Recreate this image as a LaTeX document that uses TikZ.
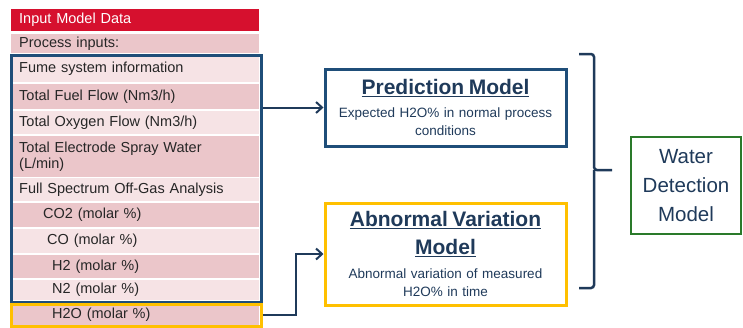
\documentclass[tikz,border=0pt]{standalone}
\usepackage{fontspec}
\setmainfont{Liberation Sans}
\usetikzlibrary{arrows.meta, positioning}
\definecolor{navy}{HTML}{1F4E79}
\definecolor{inkblue}{HTML}{1F3A5A}
\definecolor{hdrred}{HTML}{D6102E}
\definecolor{pinkdark}{HTML}{EBC6CA}
\definecolor{pinklight}{HTML}{F6E3E5}
\definecolor{ambr}{HTML}{FFC000}
\definecolor{leaf}{HTML}{2A7A2A}
\newcommand\mtitle[1]{{\fontsize{21}{26}\selectfont\bfseries\underline{#1}}}

\begin{document}
\begin{tikzpicture}[x=1pt,y=-1pt,
        row/.style={anchor=north west, minimum width=248, inner xsep=8, inner ysep=0,
          text width=232, align=left, font=\fontsize{14.5}{16}\selectfont, text=black!85},
        dk/.style={row, fill=pinkdark},
        lt/.style={row, fill=pinklight},
        frame/.style={anchor=north west, line width=2.5, inner sep=0},
        model/.style={line width=3, align=center, text width=230, text=inkblue,
          font=\fontsize{13.5}{18}\selectfont},
        conn/.style={draw=inkblue, line width=2, -{Straight Barb[length=6,width=11,line width=2]}},
        bracket/.style={draw=inkblue, line width=2.5, rounded corners=3}]
        \useasboundingbox (0,0) rectangle (743,327);
        % input table
        \node[row, fill=hdrred, text=white, minimum height=22] (hdr) at (11,9) {Input Model Data};
        \node[dk, minimum height=19] (proc) at (11,34) {Process inputs:};
        \node[lt, minimum height=26] (fume) at (11,56) {Fume system information};
        \node[dk, minimum height=25] (fuel) at (11,84) {Total Fuel Flow (Nm3/h)};
        \node[lt, minimum height=23] (oxy) at (11,111) {Total Oxygen Flow (Nm3/h)};
        \node[dk, minimum height=41] (elec) at (11,136) {Total Electrode Spray Water\\(L/min)};
        \node[lt, minimum height=23] (fsa) at (11,178) {Full Spectrum Off-Gas Analysis};
        \node[dk, minimum height=24] (co2) at (11,203) {\hspace*{24pt}CO2 (molar \%)};
        \node[lt, minimum height=24] (co) at (11,229) {\hspace*{28pt}CO (molar \%)};
        \node[dk, minimum height=23] (h2) at (11,255) {\hspace*{33pt}H2 (molar \%)};
        \node[lt, minimum height=20] (n2) at (11,280) {\hspace*{33pt}N2 (molar \%)};
        \node[dk, minimum height=20] (h2o) at (11,305) {\hspace*{33pt}H2O (molar \%)};
        \node[frame, draw=navy, minimum width=250, minimum height=247] (inbox) at (10,54) {};
        \node[frame, draw=ambr, minimum width=250, minimum height=22] (h2obox) at (10,303) {};
        % models
        \node[model, draw=navy, minimum width=241, minimum height=77] (pred) at (445.5,107.5)
          {\mtitle{Prediction Model}\\[5pt]Expected H2O\% in normal process\\conditions};
        \node[model, draw=ambr, minimum width=241, minimum height=102] (abn) at (445.5,254)
          {\mtitle{Abnormal Variation}\\[10pt]\mtitle{Model}\\[6pt]Abnormal variation of measured\\H2O\% in time};
        \node[draw=leaf, line width=2.5, minimum width=110, minimum height=97, align=center,
          text=inkblue, font=\fontsize{20.5}{29}\selectfont] (wdm) at (686,185.5) {Water\\Detection\\Model};
        % connectors
        \draw[conn] (inbox.east |- pred.west) -- (pred.west);
        \draw[conn] (h2obox.east) -- ++(33,0) |- (abn.west);
        \draw[bracket] (579,54) -- (594,54) -- (594,170) -- (612,170)
          (594,170) -- (594,288) -- (579,288);
\end{tikzpicture}
\end{document}
